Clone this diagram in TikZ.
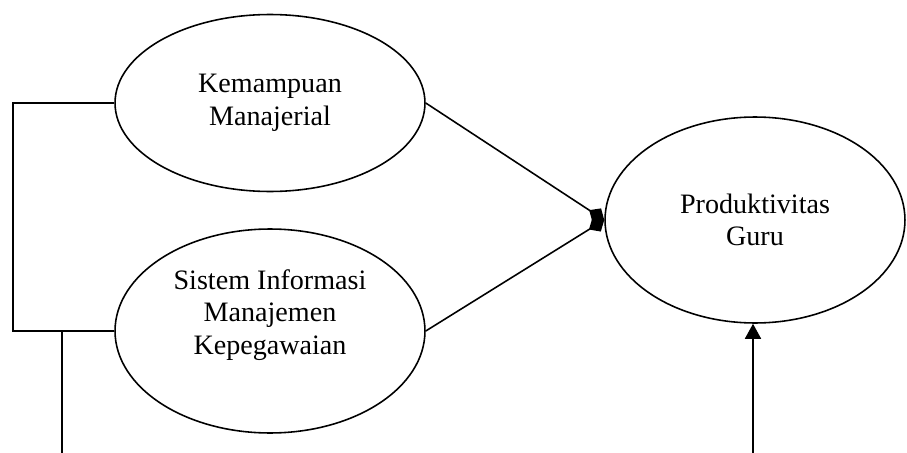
\documentclass[tikz,border=0pt]{standalone}
\usepackage{fontspec}
\setmainfont{Liberation Serif}
\usetikzlibrary{shapes.geometric, arrows.meta}

\begin{document}
\begin{tikzpicture}[x=0.02cm, y=-0.02cm,
		oval/.style={ellipse, draw, line width=0.9pt, align=center, inner sep=0pt},
		link/.style={line width=0.9pt},
		txt/.style={align=center, font=\fontsize{16}{18.5}\selectfont}]
		\useasboundingbox (0,0) rectangle (907,453);

		% The three variables
		\node[oval, txt, minimum width=6.2cm, minimum height=3.54cm] (km) at (270,103) {Kemampuan\\Manajerial};
		\node[oval, minimum width=6.2cm, minimum height=4.08cm] (sim) at (270,331) {};
		\node[txt] (simtext) at (270,315) {Sistem Informasi\\Manajemen\\Kepegawaian};
		\node[oval, txt, minimum width=6.0cm, minimum height=4.12cm] (pg) at (755,220) {Produktivitas\\Guru};

		% Bracket joining the two predictors
		\coordinate (brk) at (13,0);
		\draw[link] (km.west) -- (km.west -| brk) |- (sim.west);

		% Free line going down on the left
		\coordinate (low) at (62,453);
		\draw[link] (low |- sim.west) -- (low);

		% Paths into Produktivitas Guru
		\draw[link, -{Diamond[length=0.36cm, width=0.32cm]}] (km.east) -- (pg.west);
		\draw[link, -{Diamond[length=0.36cm, width=0.32cm]}] (sim.east) -- (pg.west);

		% Arrow from below
		\coordinate (up) at (753,453);
		\draw[link, -{Triangle[length=0.3cm, width=0.32cm]}] (up) -- (up |- pg.south);
	\end{tikzpicture}
\end{document}
